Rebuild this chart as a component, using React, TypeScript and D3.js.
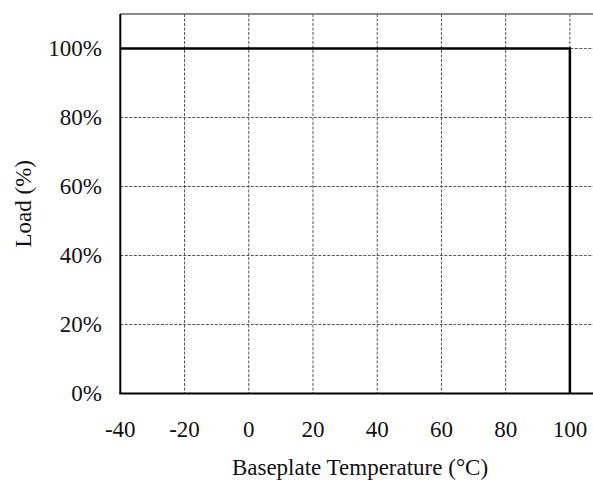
import React from "react";
import * as d3 from "d3";

const xTicks = [-40, -20, 0, 20, 40, 60, 80, 100];
const yTicks = [0, 20, 40, 60, 80, 100];
const deratingTemp = [-40, 100, 100];
const deratingLoad = [100, 100, 0];
const xTitle = "Baseplate Temperature (°C)";
const yTitle = "Load (%)";

const W = 593;
const H = 482;
const left = 120.3;
const right = 602;
const top = 14;
const bottom = 393.5;
const font = "'Liberation Serif', 'Times New Roman', serif";
const fs = 23;

export default function App() {
  const x = d3.scaleLinear().domain([-40, 110]).range([left, right]);
  const y = d3.scaleLinear().domain([0, 110]).range([bottom, top]);
  const line = d3
    .line<number>()
    .x((_, i) => x(deratingTemp[i]))
    .y((_, i) => y(deratingLoad[i]));
  const idx = deratingTemp.map((_, i) => i);
  return (
    <svg
      width={W}
      height={H}
      style={{ position: "fixed", left: 0, top: 0, background: "#fff" }}
    >
      <rect x={0} y={0} width={W} height={H} fill="#fff" />
      {xTicks.slice(1).map((t) => (
        <line
          key={"vx" + t}
          x1={x(t)}
          x2={x(t)}
          y1={top}
          y2={bottom}
          stroke="#555"
          strokeWidth={1}
          strokeDasharray="3,1.5"
        />
      ))}
      {yTicks.slice(1).map((t) => (
        <line
          key={"hy" + t}
          x1={left}
          x2={right}
          y1={y(t)}
          y2={y(t)}
          stroke="#555"
          strokeWidth={1}
          strokeDasharray="3,1.5"
        />
      ))}
      <line x1={left} x2={right} y1={top} y2={top} stroke="#666" strokeWidth={1.5} />
      <line x1={left} x2={left} y1={top} y2={bottom} stroke="#000" strokeWidth={2} />
      <line x1={left - 1} x2={right} y1={bottom} y2={bottom} stroke="#000" strokeWidth={2} />
      <path d={line(idx) || ""} fill="none" stroke="#000" strokeWidth={2.5} />
      {yTicks.map((t) => (
        <text
          key={"yl" + t}
          x={102}
          y={y(t)}
          textAnchor="end"
          dominantBaseline="central"
          fontFamily={font}
          fontSize={fs}
          fill="#111"
        >
          {t + "%"}
        </text>
      ))}
      {xTicks.map((t) => (
        <text
          key={"xl" + t}
          x={x(t)}
          y={437}
          textAnchor="middle"
          fontFamily={font}
          fontSize={fs}
          fill="#111"
        >
          {t}
        </text>
      ))}
      <text
        x={360}
        y={475}
        textAnchor="middle"
        fontFamily={font}
        fontSize={fs}
        fill="#111"
      >
        {xTitle}
      </text>
      <text
        transform={`translate(31,${(top + bottom) / 2}) rotate(-90)`}
        textAnchor="middle"
        fontFamily={font}
        fontSize={fs}
        fill="#111"
      >
        {yTitle}
      </text>
    </svg>
  );
}
